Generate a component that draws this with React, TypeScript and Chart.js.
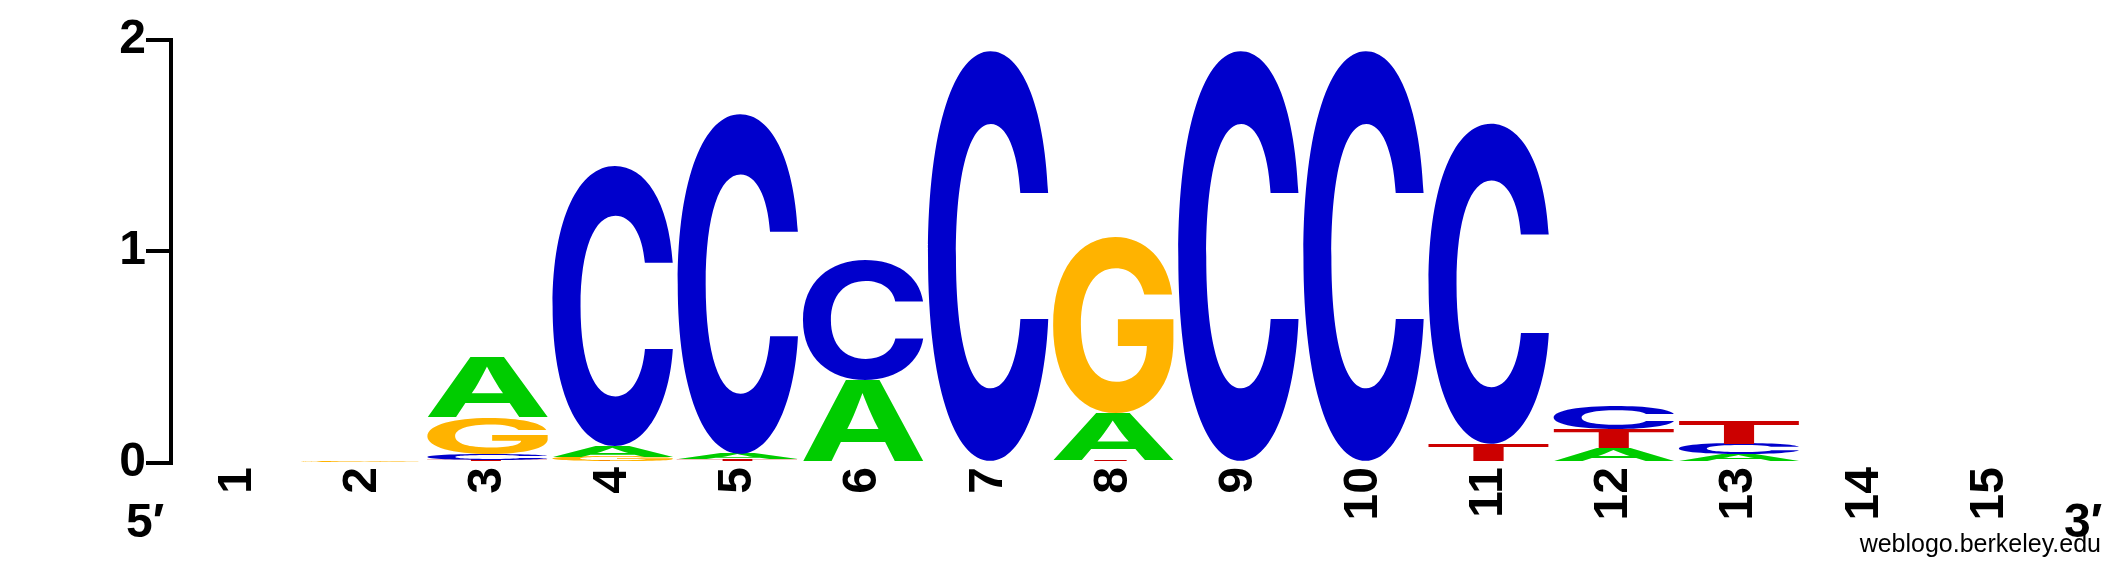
import React, { useEffect, useRef } from 'react';
import { Chart, registerables } from 'chart.js';

Chart.register(...registerables);

// ---- data (bits per base at each position) ----
const POSITIONS = [1, 2, 3, 4, 5, 6, 7, 8, 9, 10, 11, 12, 13, 14, 15];
const BITS_A = [0, 0, 0.285, 0.05, 0.025, 0.394, 0, 0.224, 0, 0, 0, 0.071, 0.04, 0, 0];
const BITS_C = [0, 0, 0.028, 1.318, 1.599, 0.561, 1.938, 0, 1.938, 1.938, 1.507, 0.111, 0.052, 0, 0];
const BITS_G = [0, 0.006, 0.175, 0.02, 0, 0, 0, 0.828, 0, 0, 0, 0, 0, 0, 0];
const BITS_T = [0, 0, 0.014, 0.01, 0.018, 0, 0, 0.012, 0, 0, 0.09, 0.09, 0.108, 0, 0];
const Y_TICKS = [0, 1, 2];
const BASES = ['A', 'C', 'G', 'T'];

const BASE_COLORS: Record<string, string> = {
  A: '#00CC00',
  C: '#0000CC',
  G: '#FFB300',
  T: '#CC0000',
};

const GLYPH_FONT = 'bold 200px Inter, "Liberation Sans", Arial, Helvetica, sans-serif';

function buildRankDatasets() {
  const series: Record<string, number[]> = { A: BITS_A, C: BITS_C, G: BITS_G, T: BITS_T };
  const ranks = BASES.map(() => ({ data: [] as { x: number; y: number }[], letters: [] as string[] }));
  POSITIONS.forEach((pos, i) => {
    const sorted = BASES.map((b) => ({ b, v: series[b][i] })).sort((p, q) => p.v - q.v);
    sorted.forEach((item, r) => {
      ranks[r].data.push({ x: pos, y: item.v });
      ranks[r].letters.push(item.b);
    });
  });
  return ranks.map((r, idx) => ({
    label: 'rank ' + idx,
    data: r.data,
    letters: r.letters,
    backgroundColor: 'rgba(0,0,0,0)',
    borderWidth: 0,
    barPercentage: 0.966,
    categoryPercentage: 1,
  }));
}

function drawGlyph(ctx: CanvasRenderingContext2D, letter: string, left: number, top: number, w: number, h: number, color: string) {
  if (w <= 0 || h <= 0) return;
  ctx.save();
  ctx.font = GLYPH_FONT;
  ctx.textAlign = 'left';
  ctx.textBaseline = 'alphabetic';
  const m = ctx.measureText(letter);
  const gw = m.actualBoundingBoxLeft + m.actualBoundingBoxRight;
  const gh = m.actualBoundingBoxAscent + m.actualBoundingBoxDescent;
  ctx.translate(left, top);
  ctx.scale(w / gw, h / gh);
  ctx.fillStyle = color;
  ctx.fillText(letter, m.actualBoundingBoxLeft, m.actualBoundingBoxAscent);
  ctx.restore();
}

const logoPlugin = {
  id: 'logoLetters',
  afterDatasetsDraw(chart: any) {
    const ctx: CanvasRenderingContext2D = chart.ctx;
    chart.data.datasets.forEach((ds: any, di: number) => {
      const meta = chart.getDatasetMeta(di);
      meta.data.forEach((el: any, i: number) => {
        const letter = ds.letters[i];
        const v = ds.data[i].y;
        if (!letter || !(v > 0)) return;
        const { x, y, base, width } = el.getProps(['x', 'y', 'base', 'width'], true);
        const top = Math.min(y, base);
        const h = Math.abs(base - y);
        drawGlyph(ctx, letter, x - width / 2, top, width, h, BASE_COLORS[letter]);
      });
    });
  },
  afterDraw(chart: any) {
    const ctx: CanvasRenderingContext2D = chart.ctx;
    const area = chart.chartArea;
    ctx.save();
    ctx.fillStyle = '#000';
    ctx.textBaseline = 'alphabetic';
    ctx.font = 'bold 48px "Liberation Sans", Arial, sans-serif';
    ctx.textAlign = 'left';
    ctx.fillText('5\u2032', area.left - 45, area.bottom + 74);
    ctx.fillText('3\u2032', area.right + 12, area.bottom + 74);
    ctx.font = '25px "Liberation Sans", Arial, sans-serif';
    ctx.textAlign = 'right';
    ctx.fillText('weblogo.berkeley.edu', chart.width - 24, area.bottom + 89);
    ctx.restore();
  },
};

export default function App() {
  const canvasRef = useRef<HTMLCanvasElement | null>(null);

  useEffect(() => {
    const canvas = canvasRef.current;
    if (!canvas) return;
    const chart = new Chart(canvas, {
      type: 'bar',
      data: { datasets: buildRankDatasets() as any },
      options: {
        animation: false,
        responsive: false,
        devicePixelRatio: 1,
        events: [],
        layout: { padding: { left: 0, right: 73, top: 39.5, bottom: 0 } },
        plugins: { legend: { display: false }, tooltip: { enabled: false } },
        scales: {
          x: {
            type: 'linear',
            stacked: true,
            offset: false,
            min: 0.469,
            max: 15.5,
            afterBuildTicks: (scale: any) => {
              scale.ticks = POSITIONS.map((v) => ({ value: v }));
            },
            afterFit: (scale: any) => {
              scale.height = 125;
            },
            grid: { display: false, drawTicks: false, offset: false },
            border: { display: false },
            ticks: {
              autoSkip: false,
              minRotation: 90,
              maxRotation: 90,
              padding: 4,
              color: '#000',
              font: { family: '"Liberation Sans", Arial, sans-serif', size: 48, weight: 'bold' },
              callback: (value: any) => String(value),
            },
          },
          y: {
            type: 'linear',
            stacked: true,
            min: 0,
            max: 2,
            afterBuildTicks: (scale: any) => {
              scale.ticks = Y_TICKS.map((v) => ({ value: v }));
            },
            afterFit: (scale: any) => {
              scale.width = 171;
            },
            grid: {
              drawOnChartArea: false,
              drawTicks: true,
              tickLength: 25,
              tickWidth: 4,
              tickColor: '#000',
              lineWidth: 4,
              color: '#000',
            },
            border: { display: true, width: 4, color: '#000' },
            ticks: {
              padding: 0,
              color: '#000',
              font: { family: '"Liberation Sans", Arial, sans-serif', size: 48, weight: 'bold' },
              callback: (value: any) => String(value),
            },
          },
        },
      } as any,
      plugins: [logoPlugin],
    });
    return () => chart.destroy();
  }, []);

  return (
    <div style={{ position: 'fixed', left: 0, top: 0, width: 2125, height: 588, background: '#fff' }}>
      <canvas ref={canvasRef} width={2125} height={588} style={{ display: 'block', width: 2125, height: 588 }} />
    </div>
  );
}
